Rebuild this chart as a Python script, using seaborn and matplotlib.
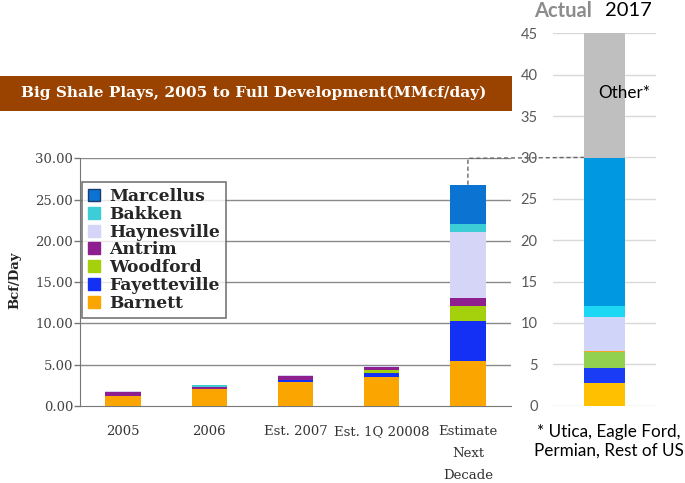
import numpy as np
import seaborn as sns
import matplotlib.pyplot as plt
from matplotlib.patches import Patch, Rectangle
from matplotlib.lines import Line2D

# left chart: big shale plays (Bcf/day)
periods = ["2005", "2006", "Est. 2007", "Est. 1Q 20008", "Estimate\nNext\nDecade"]
plays = ["Barnett", "Fayetteville", "Woodford", "Antrim", "Haynesville", "Bakken", "Marcellus"]
barnett = [1.2, 2.05, 2.95, 3.55, 5.5]
fayetteville = [0.0, 0.0, 0.2, 0.48, 4.8]
woodford = [0.0, 0.0, 0.05, 0.32, 1.8]
antrim = [0.5, 0.3, 0.4, 0.4, 1.0]
haynesville = [0.15, 0.0, 0.15, 0.12, 8.0]
bakken = [0.0, 0.25, 0.0, 0.0, 0.9]
marcellus = [0.0, 0.0, 0.0, 0.0, 4.8]
left_colors = ["#FBA600", "#1530F5", "#A4D10C", "#8E1F8E", "#D5D6F7", "#3CCDD6", "#0B74D2"]

# right chart: actual 2017
actual_label = ["2017"]
actual_parts = ["Barnett", "Fayetteville", "Woodford", "Antrim", "Haynesville", "Bakken", "Marcellus", "Other"]
actual_values = [2.8, 1.8, 1.9, 0.15, 4.1, 1.25, 17.9, 15.1]
right_colors = ["#FFC000", "#1A3CF5", "#92D050", "#F5A623", "#D0D4F8", "#1CD8F5", "#0098E0", "#BFBFBF"]

sns.set_style("white")
plt.rcParams["font.family"] = ["DejaVu Serif"]

fig = plt.figure(figsize=(6.85, 4.83), dpi=100)
W, H = 685, 483

def px_box(x0, y0, x1, y1):
    return [x0 / W, 1 - y1 / H, (x1 - x0) / W, (y1 - y0) / H]

# ---------- left chart ----------
ax = fig.add_axes(px_box(80, 158.3, 511, 406))
stack = np.cumsum([barnett, fayetteville, woodford, antrim, haynesville, bakken, marcellus], axis=0)
for i in reversed(range(len(plays))):
    sns.barplot(x=periods, y=stack[i], color=left_colors[i], saturation=1,
                width=0.41, linewidth=0, errorbar=None, ax=ax, zorder=3)

ax.set_ylim(0, 30)
ax.set_xlim(-0.5, 4.5)
ax.set_yticks(np.arange(0, 31, 5))
ax.set_yticklabels([f"{v:.2f}" for v in np.arange(0, 31, 5)])
ax.set_xticks(range(5))
ax.set_xticklabels(periods, linespacing=1.9)
ax.set_xticks(np.arange(-0.5, 4, 1), minor=True)
ax.tick_params(axis="x", which="major", length=0, pad=14, labelsize=9.5, labelcolor="#333333")
ax.tick_params(axis="x", which="minor", length=4, width=1, color="#777777", direction="out")
ax.tick_params(axis="y", length=4, width=1, color="#777777", pad=1, labelsize=9.5,
               labelcolor="#444444", left=True)
ax.set_xlabel("")
ax.set_ylabel("")
for v in np.arange(5, 31, 5):
    ax.axhline(v, color="#8a8a8a", lw=1, zorder=1)
for s in ["top", "right"]:
    ax.spines[s].set_visible(False)
ax.spines["left"].set_color("#777777")
ax.spines["bottom"].set_color("#777777")

handles = [Patch(facecolor=c, edgecolor=("#1a3d6e" if p == "Marcellus" else c), label=p)
           for p, c in zip(plays, left_colors)][::-1]
leg = ax.legend(handles=handles, loc="upper left", bbox_to_anchor=(0.004, 0.905),
                prop={"weight": "bold", "size": 12.3}, frameon=True, fancybox=False,
                handlelength=0.7, handleheight=0.7, handletextpad=0.55,
                labelspacing=0.05, borderpad=0.35, borderaxespad=0)
leg.get_frame().set_edgecolor("#555555")
leg.get_frame().set_linewidth(1.2)
leg.set_zorder(5)

fig.text(15 / W, 1 - 280 / H, "Bcf/Day", rotation=90, ha="center", va="center",
         fontsize=9.5, fontweight="bold", color="#222222")

# banner title
fig.patches.append(Rectangle((0, 1 - 111 / H), 512 / W, 35 / H, transform=fig.transFigure,
                             facecolor="#9A4200", edgecolor="none"))
fig.text(254 / W, 1 - 93 / H, "Big Shale Plays, 2005 to Full Development(MMcf/day)",
         ha="center", va="center", fontsize=11.1, fontweight="bold", color="white")

# ---------- right chart ----------
ax2 = fig.add_axes(px_box(553, 33.3, 656, 405.7))
stack2 = np.cumsum(actual_values)
for i in reversed(range(len(actual_parts))):
    sns.barplot(x=actual_label, y=[stack2[i]], color=right_colors[i], saturation=1,
                width=0.4, linewidth=0, errorbar=None, ax=ax2, zorder=3)
ax2.set_xlim(-0.5, 0.5)
ax2.set_ylim(0, 45)
ax2.set_yticks(np.arange(0, 46, 5))
ax2.set_yticklabels([str(v) for v in range(0, 46, 5)], family="Lato")
ax2.set_xticks([])
ax2.set_xlabel("")
ax2.set_ylabel("")
ax2.tick_params(axis="y", length=0, pad=11, labelsize=10.5, labelcolor="#595959")
for v in np.arange(0, 46, 5):
    ax2.axhline(v, color="#D9D9D9", lw=1, zorder=1)
for s in ax2.spines.values():
    s.set_visible(False)
ax2.patch.set_alpha(0)
ax2.text(0.19, 37.8, "Other*", ha="center", va="center", family="Lato", fontsize=12.3,
         color="black", zorder=4)

fig.text(563 / W, 1 - 11 / H, "Actual", ha="center", va="center", family="Lato",
         fontweight="bold", fontsize=14.5, color="#8C8C8C")
fig.text(628 / W, 1 - 11 / H, "2017", ha="center", va="center", family="Lato",
         fontsize=14.5, color="black")
fig.text(609 / W, 1 - 441 / H, "* Utica, Eagle Ford,\nPermian, Rest of US", ha="center",
         va="center", family="Lato", fontsize=12.3, color="black", linespacing=1.2)

# dashed connector from estimate bar top to the 30 level of the actual chart
fig.canvas.draw()
to_fig = fig.transFigure.inverted()
p0 = to_fig.transform(ax.transData.transform((4, stack[-1][-1])))
p1 = to_fig.transform(ax.transData.transform((4, 30)))
p2 = to_fig.transform(ax2.transData.transform((-0.2, 30)))
fig.lines.append(Line2D([p0[0], p1[0], p2[0]], [p0[1], p1[1], p2[1]],
                        transform=fig.transFigure, color="#666666", lw=1, ls=(0, (3, 2))))

fig.savefig("out.png", dpi=100)
